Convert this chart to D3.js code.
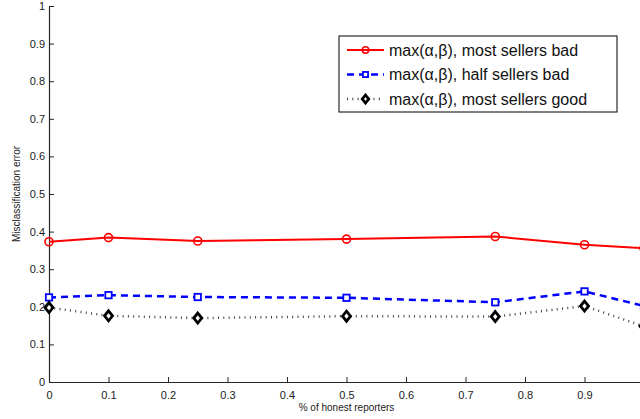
<!DOCTYPE html>
<html>
<head>
<meta charset="utf-8">
<script src="https://cdn.jsdelivr.net/npm/d3@7"></script>
<style>
  html, body { margin: 0; padding: 0; background: #fff; }
  svg { display: block; font-family: "Liberation Sans", Arial, Helvetica, sans-serif; }
</style>
</head>
<body>
<svg id="chart" width="640" height="419"></svg>
<script>
// Fraction of honest reporters (x) and misclassification error per scenario
const honestFraction = [0, 0.1, 0.25, 0.5, 0.75, 0.9, 1];
const mostBad  = [0.373, 0.384, 0.375, 0.380, 0.387, 0.365, 0.356];
const halfBad  = [0.225, 0.231, 0.226, 0.224, 0.212, 0.241, 0.202];
const mostGood = [0.198, 0.176, 0.170, 0.175, 0.174, 0.202, 0.148];

const seriesNames = [
  "max(\u03b1,\u03b2), most sellers bad",
  "max(\u03b1,\u03b2), half sellers bad",
  "max(\u03b1,\u03b2), most sellers good"
];
const xTicks = [0, 0.1, 0.2, 0.3, 0.4, 0.5, 0.6, 0.7, 0.8, 0.9];
const yTicks = [0, 0.1, 0.2, 0.3, 0.4, 0.5, 0.6, 0.7, 0.8, 0.9, 1];

const svg = d3.select("#chart");
const plot = { left: 49, right: 644, top: 6, bottom: 382 };

const x = d3.scaleLinear().domain([0, 1]).range([plot.left, plot.right]);
const y = d3.scaleLinear().domain([0, 1]).range([plot.bottom, plot.top]);

const axisColor = "#262626";

// Axes: ticks pointing inward, no surrounding box
const xAxis = svg.append("g")
  .attr("transform", `translate(0,${plot.bottom})`)
  .call(d3.axisBottom(x).tickValues(xTicks).tickSizeInner(-5).tickSizeOuter(0)
    .tickPadding(9).tickFormat(d => d3.format("")(d)));
const yAxis = svg.append("g")
  .attr("transform", `translate(${plot.left},0)`)
  .call(d3.axisLeft(y).tickValues(yTicks).tickSizeInner(-5).tickSizeOuter(0)
    .tickPadding(4).tickFormat(d => d3.format("")(d)));

[xAxis, yAxis].forEach(g => {
  g.select(".domain").attr("stroke", axisColor).attr("stroke-width", 1.2);
  g.selectAll(".tick line").attr("stroke", axisColor).attr("stroke-width", 1);
  g.selectAll(".tick text").attr("fill", "#1a1a1a").style("font-size", "11px");
});

// Axis titles
svg.append("text")
  .attr("x", (plot.left + plot.right) / 2)
  .attr("y", 411)
  .attr("text-anchor", "middle")
  .style("font-size", "10px")
  .attr("fill", "#1a1a1a")
  .text("% of honest reporters");

svg.append("text")
  .attr("transform", `translate(20,${(plot.top + plot.bottom) / 2}) rotate(-90)`)
  .attr("text-anchor", "middle")
  .style("font-size", "10px")
  .attr("fill", "#1a1a1a")
  .text("Misclassification error");

const series = [
  { name: seriesNames[0], values: mostBad,  color: "#ff0000", lineColor: "#ff0000", width: 2,   dash: null,    marker: "circle" },
  { name: seriesNames[1], values: halfBad,  color: "#0000ff", lineColor: "#0000ff", width: 2.5, dash: "7,5",   marker: "square" },
  { name: seriesNames[2], values: mostGood, color: "#000000", lineColor: "#444444", width: 2.5, dash: "1,4.3", marker: "diamond" }
];

const line = d3.line()
  .x(d => x(d[0]))
  .y(d => y(d[1]));

function drawMarker(g, kind, color, scale) {
  if (kind === "circle") {
    g.append("circle").attr("r", 4 * scale)
      .attr("fill", "none").attr("stroke", color).attr("stroke-width", 1.6);
  } else if (kind === "square") {
    const h = 3.2 * scale;
    g.append("rect").attr("x", -h).attr("y", -h).attr("width", 2 * h).attr("height", 2 * h)
      .attr("fill", "#fff").attr("stroke", color).attr("stroke-width", 1.8);
  } else {
    const w = 4 * scale, hh = 5 * scale;
    g.append("path").attr("d", `M0,${-hh}L${w},0L0,${hh}L${-w},0Z`)
      .attr("fill", "#fff").attr("stroke", color).attr("stroke-width", 2.8)
      .attr("stroke-linejoin", "miter");
  }
}

series.forEach(s => {
  const pts = honestFraction.map((xv, i) => [xv, s.values[i]]);
  svg.append("path")
    .datum(pts)
    .attr("d", line)
    .attr("fill", "none")
    .attr("stroke", s.lineColor)
    .attr("stroke-width", s.width)
    .attr("stroke-dasharray", s.dash)
    .attr("stroke-linejoin", "round");
  pts.forEach(p => {
    const g = svg.append("g").attr("transform", `translate(${x(p[0])},${y(p[1])})`);
    drawMarker(g, s.marker, s.color, 1);
  });
});

// Legend
const legend = svg.append("g").attr("transform", "translate(339,36)");
legend.append("rect")
  .attr("width", 278).attr("height", 76)
  .attr("fill", "#fff").attr("stroke", "#000").attr("stroke-width", 1);

series.forEach((s, i) => {
  const cy = 14 + i * 24.5;
  legend.append("line")
    .attr("x1", 8).attr("x2", 45).attr("y1", cy).attr("y2", cy)
    .attr("stroke", s.lineColor).attr("stroke-width", s.width)
    .attr("stroke-dasharray", s.dash);
  const g = legend.append("g").attr("transform", `translate(26.5,${cy})`);
  drawMarker(g, s.marker, s.color, 0.8);
  legend.append("text")
    .attr("x", 50).attr("y", cy + 5.5)
    .style("font-size", "16px")
    .attr("fill", "#111")
    .text(s.name);
});
</script>
</body>
</html>
